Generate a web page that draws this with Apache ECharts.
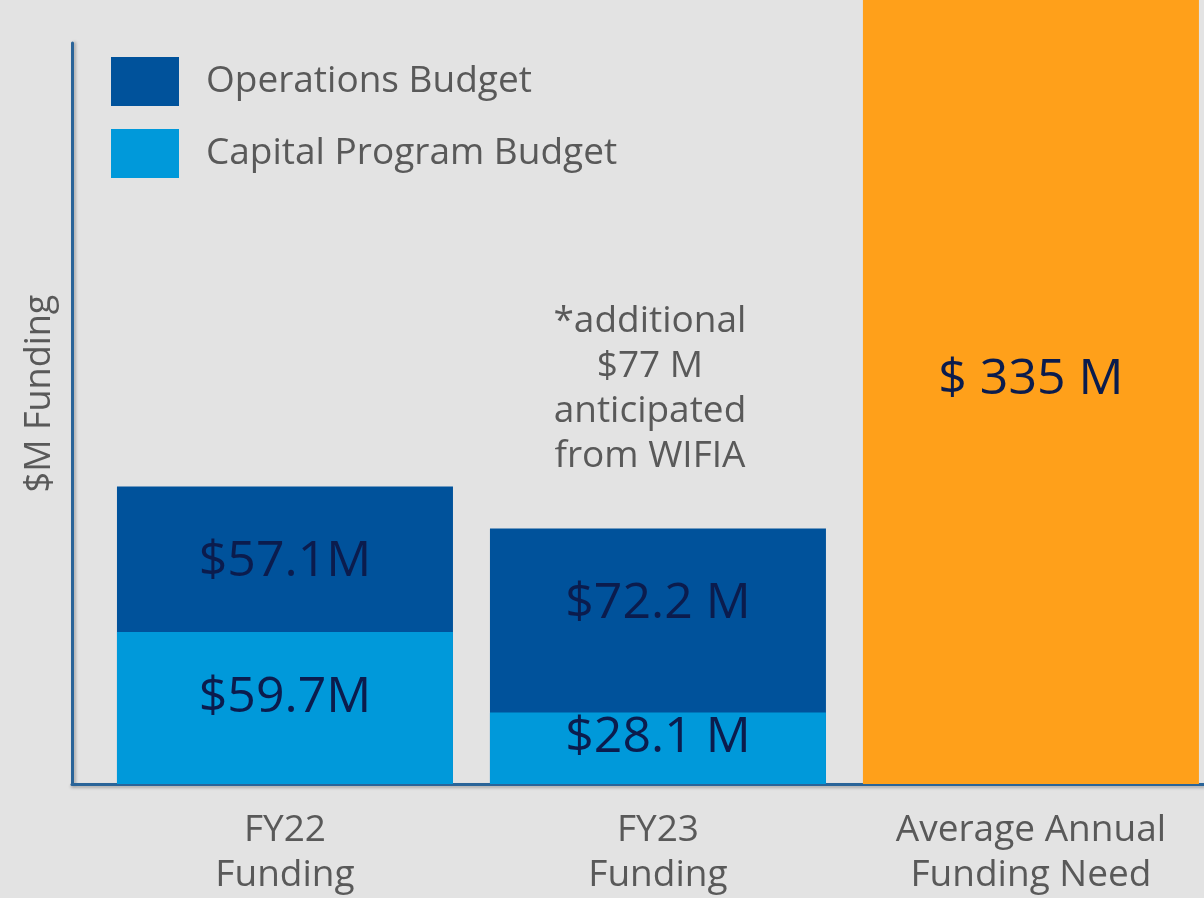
<!DOCTYPE html>
<html>
<head>
<meta charset="utf-8">
<script src="https://cdn.jsdelivr.net/npm/echarts@6/dist/echarts.min.js"></script>
<style>
  html, body { margin: 0; padding: 0; background: #e3e3e3; }
  #chart { width: 1204px; height: 898px; }
</style>
</head>
<body>
<div id="chart"></div>
<script>
const categories = ['FY22\nFunding', 'FY23\nFunding', 'Average Annual\nFunding Need']
const capitalValues = [59.7, 28.1]
const operationsValues = [57.1, 72.2]
const needValues = [335]
const capitalLabels = ['$59.7M', '$28.1 M']
const operationsLabels = ['$57.1M', '$72.2 M']
const needLabels = ['$ 335 M']
const note = '*additional\n$77 M\nanticipated\nfrom WIFIA'

const font = '"Open Sans", "Noto Sans", sans-serif'
const grey = '#595959'
const navy = '#0b1c4d'
const axisColor = '#2a6498'

// operations sit on top of capital: draw the full column behind the capital part
const totals = capitalValues.map((v, i) => v + operationsValues[i])
const toPoints = (vals, start) => vals.map((v, i) => [start + i, v])
const labelOf = texts => ({
  show: true,
  position: 'inside',
  fontFamily: font,
  fontSize: 50,
  color: navy,
  formatter: p => texts[p.dataIndex]
})

const chart = echarts.init(document.getElementById('chart'))
chart.setOption({
  backgroundColor: '#e3e3e3',
  animation: false,
  grid: { left: 72, right: 0, top: 43, bottom: 113 },
  legend: {
    data: ['Operations Budget', 'Capital Program Budget'],
    orient: 'vertical',
    left: 106,
    top: 52,
    itemWidth: 68,
    itemHeight: 49,
    itemGap: 23,
    icon: 'rect',
    textStyle: { fontFamily: font, fontSize: 37, color: grey, padding: [0, 0, 0, 22] }
  },
  xAxis: {
    type: 'value',
    min: -0.571,
    max: 2.464,
    splitLine: { show: false },
    axisTick: { show: false },
    axisLine: {
      show: true,
      onZero: false,
      lineStyle: { color: axisColor, width: 3, shadowColor: 'rgba(0,0,0,0.25)', shadowBlur: 3, shadowOffsetY: 2 }
    },
    axisLabel: {
      customValues: [0, 1, 2],
      formatter: v => categories[Math.round(v)],
      fontFamily: font,
      fontSize: 37,
      lineHeight: 45,
      color: grey,
      margin: 24
    }
  },
  yAxis: {
    type: 'value',
    min: 0,
    max: 291,
    name: '$M Funding',
    nameLocation: 'middle',
    nameGap: 14,
    nameTextStyle: { fontFamily: font, fontSize: 36, color: grey, padding: [0, 0, 0, 40] },
    splitLine: { show: false },
    axisTick: { show: false },
    axisLabel: { show: false },
    axisLine: {
      show: true,
      onZero: false,
      lineStyle: { color: axisColor, width: 3, shadowColor: 'rgba(0,0,0,0.25)', shadowBlur: 3, shadowOffsetX: 2 }
    }
  },
  series: [
    {
      name: 'Operations Budget',
      type: 'bar',
      barWidth: 336,
      barGap: '-100%',
      itemStyle: { color: '#00529b' },
      label: {
        ...labelOf(operationsLabels),
        position: 'insideTop',
        distance: 50
      },
      data: toPoints(totals, 0),
      markPoint: {
        symbol: 'rect',
        symbolSize: 0,
        label: {
          show: true,
          position: 'top',
          distance: 50,
          offset: [-8, 0],
          fontFamily: font,
          fontSize: 37,
          lineHeight: 45,
          color: grey,
          formatter: note
        },
        data: [{ coord: [1, totals[1]] }]
      }
    },
    {
      name: 'Capital Program Budget',
      type: 'bar',
      barWidth: 336,
      barGap: '-100%',
      itemStyle: { color: '#0099da' },
      label: { ...labelOf(capitalLabels), offset: [0, -10] },
      data: toPoints(capitalValues, 0)
    },
    {
      name: 'Need',
      type: 'bar',
      barWidth: 336,
      barGap: '-100%',
      clip: false,
      itemStyle: { color: '#ffa01a' },
      label: { ...labelOf(needLabels), offset: [0, 22] },
      data: toPoints(needValues, 2)
    }
  ]
})
</script>
</body>
</html>
